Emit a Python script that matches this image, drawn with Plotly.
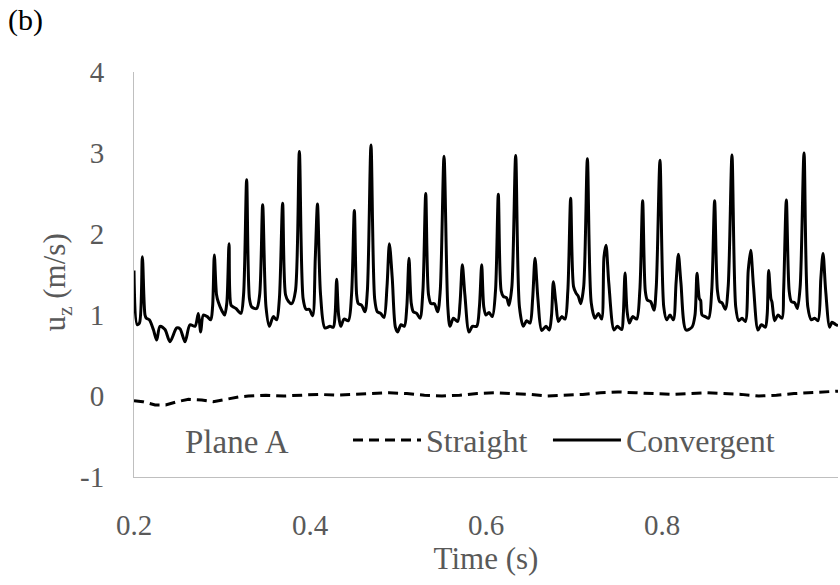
import plotly.graph_objects as go

# ---------------- data ----------------
conv_t = [0.2000, 0.2036, 0.2062, 0.2095, 0.2125, 0.2140, 0.2174, 0.2220, 0.2258, 0.2295,
          0.2352, 0.2409, 0.2485, 0.2523, 0.2580, 0.2636, 0.2693, 0.2731, 0.2758, 0.2788,
          0.2833, 0.2872, 0.2893, 0.2913, 0.2938, 0.2958, 0.3000, 0.3030, 0.3055, 0.3080,
          0.3103, 0.3129, 0.3159, 0.3215, 0.3245, 0.3280, 0.3312, 0.3337, 0.3394, 0.3428,
          0.3462, 0.3500, 0.3538, 0.3583, 0.3621, 0.3652, 0.3689, 0.3722, 0.3754, 0.3792,
          0.3835, 0.3879, 0.3922, 0.3955, 0.3992, 0.4030, 0.4060, 0.4085, 0.4120, 0.4170,
          0.4227, 0.4265, 0.4285, 0.4303, 0.4325, 0.4349, 0.4387, 0.4436, 0.4472, 0.4504,
          0.4530, 0.4549, 0.4587, 0.4625, 0.4652, 0.4693, 0.4735, 0.4765, 0.4803, 0.4841,
          0.4875, 0.4902, 0.4935, 0.4970, 0.4996, 0.5034, 0.5072, 0.5100, 0.5125, 0.5150,
          0.5174, 0.5212, 0.5250, 0.5283, 0.5315, 0.5347, 0.5375, 0.5413, 0.5451, 0.5480,
          0.5523, 0.5566, 0.5591, 0.5629, 0.5678, 0.5705, 0.5731, 0.5760, 0.5807, 0.5845,
          0.5894, 0.5925, 0.5951, 0.5975, 0.6000, 0.6034, 0.6072, 0.6108, 0.6140, 0.6172,
          0.6197, 0.6235, 0.6261, 0.6294, 0.6337, 0.6380, 0.6424, 0.6462, 0.6500, 0.6530,
          0.6557, 0.6590, 0.6633, 0.6682, 0.6720, 0.6745, 0.6765, 0.6795, 0.6822, 0.6860,
          0.6898, 0.6930, 0.6962, 0.6995, 0.7023, 0.7049, 0.7076, 0.7110, 0.7152, 0.7196,
          0.7239, 0.7277, 0.7314, 0.7341, 0.7364, 0.7395, 0.7455, 0.7492, 0.7542, 0.7560,
          0.7580, 0.7603, 0.7629, 0.7667, 0.7712, 0.7748, 0.7780, 0.7810, 0.7833, 0.7871,
          0.7909, 0.7935, 0.7977, 0.8020, 0.8053, 0.8091, 0.8129, 0.8160, 0.8186, 0.8215,
          0.8273, 0.8341, 0.8375, 0.8398, 0.8425, 0.8439, 0.8455, 0.8492, 0.8530, 0.8565,
          0.8598, 0.8630, 0.8655, 0.8682, 0.8720, 0.8752, 0.8795, 0.8838, 0.8871, 0.8909,
          0.8947, 0.8980, 0.9008, 0.9040, 0.9091, 0.9129, 0.9174, 0.9195, 0.9212, 0.9238,
          0.9250, 0.9280, 0.9318, 0.9364, 0.9382, 0.9413, 0.9445, 0.9470, 0.9508, 0.9538,
          0.9570, 0.9614, 0.9657, 0.9697, 0.9735, 0.9773, 0.9805, 0.9830, 0.9860, 0.9905,
          0.9932, 0.9977, 1.0000]
conv_v = [1.55, 0.88, 0.90, 1.72, 1.00, 0.96, 0.94, 0.82, 0.69, 0.86,
          0.82, 0.67, 0.84, 0.83, 0.67, 0.88, 0.86, 1.02, 0.79, 1.00,
          0.98, 0.94, 1.10, 1.74, 1.25, 1.16, 1.05, 1.00, 1.15, 1.88,
          1.12, 1.10, 1.08, 1.02, 1.25, 2.67, 1.20, 1.10, 1.08, 1.25,
          2.36, 1.10, 0.86, 0.98, 0.94, 1.20, 2.38, 1.25, 1.17, 1.14,
          1.30, 3.02, 1.20, 1.07, 1.07, 0.99, 1.70, 2.37, 1.25, 0.84,
          0.86, 0.85, 1.00, 1.44, 1.00, 0.86, 0.95, 0.93, 1.25, 2.29,
          1.25, 1.14, 1.12, 1.04, 1.30, 3.10, 1.20, 1.04, 1.02, 0.97,
          1.35, 1.88, 1.45, 0.85, 0.79, 0.88, 0.86, 1.10, 1.70, 1.15,
          1.04, 1.02, 0.96, 1.30, 2.50, 1.25, 1.14, 1.14, 1.04, 1.30,
          2.96, 1.10, 0.86, 0.96, 0.92, 1.15, 1.62, 1.25, 0.79, 0.86,
          0.86, 1.10, 1.62, 1.10, 1.00, 1.03, 0.98, 1.30, 2.49, 1.30,
          1.23, 1.21, 1.12, 1.35, 2.97, 1.10, 0.86, 0.93, 0.90, 1.20,
          1.70, 1.20, 0.81, 0.86, 0.815, 1.00, 1.41, 1.14, 0.92, 0.98,
          0.95, 1.30, 2.44, 1.35, 1.27, 1.23, 1.14, 1.35, 2.93, 1.15,
          0.96, 1.02, 0.95, 1.72, 1.86, 1.40, 0.815, 0.86, 0.82, 1.00,
          1.52, 1.05, 0.90, 0.98, 0.95, 1.30, 2.41, 1.30, 1.185, 1.165,
          1.06, 1.35, 2.91, 1.10, 0.94, 1.00, 0.94, 1.40, 1.75, 1.40,
          0.815, 0.85, 1.00, 1.515, 1.20, 1.18, 1.00, 0.98, 0.96, 1.30,
          2.41, 1.30, 1.165, 1.15, 1.07, 1.35, 2.975, 1.10, 0.93, 0.96,
          0.92, 1.55, 1.80, 1.35, 0.815, 0.88, 0.85, 1.00, 1.55, 1.20,
          1.16, 0.93, 1.00, 0.96, 1.30, 2.42, 1.30, 1.165, 1.15, 1.08,
          1.35, 3.00, 1.10, 0.94, 0.96, 0.93, 1.45, 1.76, 1.30, 0.85,
          0.91, 0.88, 0.87]

straight_t = [0.20, 0.21, 0.224, 0.236, 0.249, 0.262, 0.277, 0.290, 0.305, 0.320,
              0.33, 0.35, 0.37, 0.39, 0.41, 0.43, 0.45, 0.47, 0.49, 0.51,
              0.53, 0.55, 0.57, 0.59, 0.61, 0.63, 0.65, 0.67, 0.69, 0.71,
              0.73, 0.75, 0.77, 0.79, 0.81, 0.83, 0.85, 0.87, 0.89, 0.91,
              0.93, 0.95, 0.97, 0.99, 1.00]
straight_v = [-0.06, -0.07, -0.11, -0.11, -0.07, -0.04, -0.05, -0.07, -0.04, -0.01,
              0.00, 0.01, 0.00, 0.01, 0.02, 0.01, 0.02, 0.03, 0.04, 0.03,
              0.01, 0.00, 0.01, 0.03, 0.04, 0.03, 0.02, 0.00, 0.01, 0.02,
              0.04, 0.05, 0.04, 0.03, 0.02, 0.03, 0.04, 0.03, 0.02, 0.00,
              0.01, 0.03, 0.04, 0.05, 0.06]

x_ticks = [0.2, 0.4, 0.6, 0.8, 1.0]
x_ticktext = ["0.2", "0.4", "0.6", "0.8", "1"]
y_ticks = [-1, 0, 1, 2, 3, 4]
y_ticktext = ["-1", "0", "1", "2", "3", "4"]

# ---------------- figure ----------------
FONT = "Liberation Serif, Times New Roman, DejaVu Serif, serif"
GREY = "#595959"

fig = go.Figure()
fig.add_trace(go.Scatter(x=straight_t, y=straight_v, mode="lines", name="Straight",
                         line=dict(color="black", width=3, dash="10px,6px"),
                         legend="legend"))
fig.add_trace(go.Scatter(x=conv_t, y=conv_v, mode="lines", name="Convergent",
                         line=dict(color="black", width=3, shape="spline", smoothing=0.8),
                         legend="legend2"))

axis_common = dict(showline=True, linecolor="#bfbfbf", linewidth=1, showgrid=False,
                   zeroline=False, ticks="", tickfont=dict(family=FONT, size=29, color=GREY))

fig.update_layout(
    width=840, height=585,
    margin=dict(l=134, r=2, t=72, b=108, autoexpand=False),
    paper_bgcolor="white", plot_bgcolor="white",
    font=dict(family=FONT, color=GREY),
    xaxis=dict(range=[0.2, 1.0], tickvals=x_ticks, ticktext=x_ticktext,
               ticklabelstandoff=22, automargin=False,
               title=dict(text="Time (s)", font=dict(family=FONT, size=31, color=GREY), standoff=6),
               **axis_common),
    yaxis=dict(range=[-1, 4], tickvals=y_ticks, ticktext=y_ticktext,
               ticklabelstandoff=23, automargin=False,
               **axis_common),
    legend=dict(x=0.304, y=0.091, xanchor="left", yanchor="middle", orientation="h",
                bgcolor="rgba(0,0,0,0)", font=dict(family=FONT, size=32, color=GREY),
                itemwidth=68),
    legend2=dict(x=0.588, y=0.091, xanchor="left", yanchor="middle", orientation="h",
                 bgcolor="rgba(0,0,0,0)", font=dict(family=FONT, size=32, color=GREY),
                 itemwidth=68),
    showlegend=True,
    annotations=[
        dict(text="u<sub>z</sub> (m/s)", xref="paper", yref="paper", x=(57 - 134) / 704, y=0.48,
             xanchor="center", yanchor="middle", textangle=-90, showarrow=False,
             font=dict(family=FONT, size=31, color=GREY)),
        dict(text="Plane A", xref="paper", yref="paper", x=0.146, y=0.086,
             xanchor="center", yanchor="middle", showarrow=False,
             font=dict(family=FONT, size=33, color=GREY)),
        dict(text="(b)", xref="paper", yref="paper", x=(6 - 134) / 704, y=1.175,
             xanchor="left", yanchor="top", showarrow=False,
             font=dict(family=FONT, size=30, color="black")),
    ],
)

fig.write_html("out.html")
